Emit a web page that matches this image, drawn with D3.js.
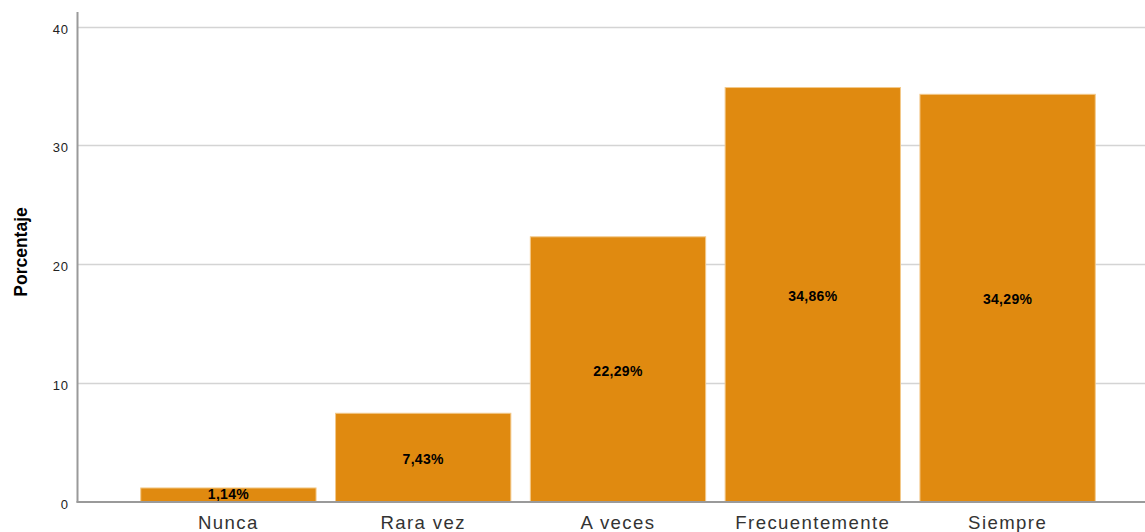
<!DOCTYPE html>
<html><head><meta charset="utf-8">
<script src="https://cdn.jsdelivr.net/npm/d3@7"></script>
<style>body{margin:0;background:#fff;} svg{display:block;}</style>
</head><body>
<svg id="c" width="1145" height="532"></svg>
<script>
const categories = ["Nunca", "Rara vez", "A veces", "Frecuentemente", "Siempre"];
const values = [1.14, 7.43, 22.29, 34.86, 34.29];
const labels = ["1,14%", "7,43%", "22,29%", "34,86%", "34,29%"];
const yTicks = [0, 10, 20, 30, 40];

const FONT = "Liberation Sans, Arial, sans-serif";
const svg = d3.select("#c");
const x = d3.scaleBand().domain(categories).range([131, 1105]).paddingInner(0.1).paddingOuter(0.05);
const y = d3.scaleLinear().domain([0, 40]).range([501.5, 26.5]);
const axisX = 77.5;

// gridlines
svg.append("g").selectAll("line").data(yTicks.filter(d => d > 0)).join("line")
  .attr("x1", axisX).attr("x2", 1145)
  .attr("y1", d => Math.round(y(d)) + 0.5).attr("y2", d => Math.round(y(d)) + 0.5)
  .attr("stroke", "#d4d4d4").attr("stroke-width", 1.5);

// bars
svg.append("g").selectAll("rect").data(values).join("rect")
  .attr("x", (d, i) => x(categories[i]))
  .attr("width", x.bandwidth())
  .attr("y", d => y(d))
  .attr("height", d => y(0) - y(d))
  .attr("fill", "#e08a10")
  .attr("stroke", "#f3c98a").attr("stroke-width", 1);

// value labels
svg.append("g").selectAll("text").data(values).join("text")
  .attr("x", (d, i) => x(categories[i]) + x.bandwidth() / 2)
  .attr("y", d => Math.min((y(d) + y(0)) / 2 + 6.5, y(0) - 2.5))
  .attr("text-anchor", "middle")
  .attr("font-family", FONT)
  .attr("font-size", 14).attr("font-weight", "bold").attr("fill", "#000")
  .attr("letter-spacing", 0.3)
  .text((d, i) => labels[i]);

// y axis
const yAxis = d3.axisLeft(y).tickValues(yTicks).tickSize(0).tickPadding(9);
const gy = svg.append("g").attr("transform", `translate(${axisX},0)`).call(yAxis);
gy.select(".domain").remove();
gy.selectAll(".tick line").remove();
gy.selectAll("text").attr("font-family", FONT).attr("font-size", 13).attr("fill", "#222")
  .attr("letter-spacing", 0.6).attr("dy", null).attr("y", 6.5);
svg.append("line").attr("x1", axisX).attr("x2", axisX).attr("y1", 12).attr("y2", 502.5)
  .attr("stroke", "#9a9a9a").attr("stroke-width", 2);

// x axis
const xAxis = d3.axisBottom(x).tickSize(0).tickPadding(0);
const gx = svg.append("g").attr("transform", `translate(0,${y(0)})`).call(xAxis);
gx.select(".domain").remove();
gx.selectAll("text").attr("font-family", FONT).attr("font-size", 18.6).attr("fill", "#333")
  .attr("letter-spacing", 1.4).attr("dy", null).attr("y", 27);
svg.append("line").attr("x1", axisX - 1).attr("x2", 1145).attr("y1", y(0) + 0.5).attr("y2", y(0) + 0.5)
  .attr("stroke", "#9a9a9a").attr("stroke-width", 2);

// y title
svg.append("text").attr("transform", "translate(27,252) rotate(-90)")
  .attr("text-anchor", "middle")
  .attr("font-family", FONT)
  .attr("font-size", 17.5).attr("font-weight", "bold").attr("fill", "#000")
  .text("Porcentaje");
</script>
</body></html>
